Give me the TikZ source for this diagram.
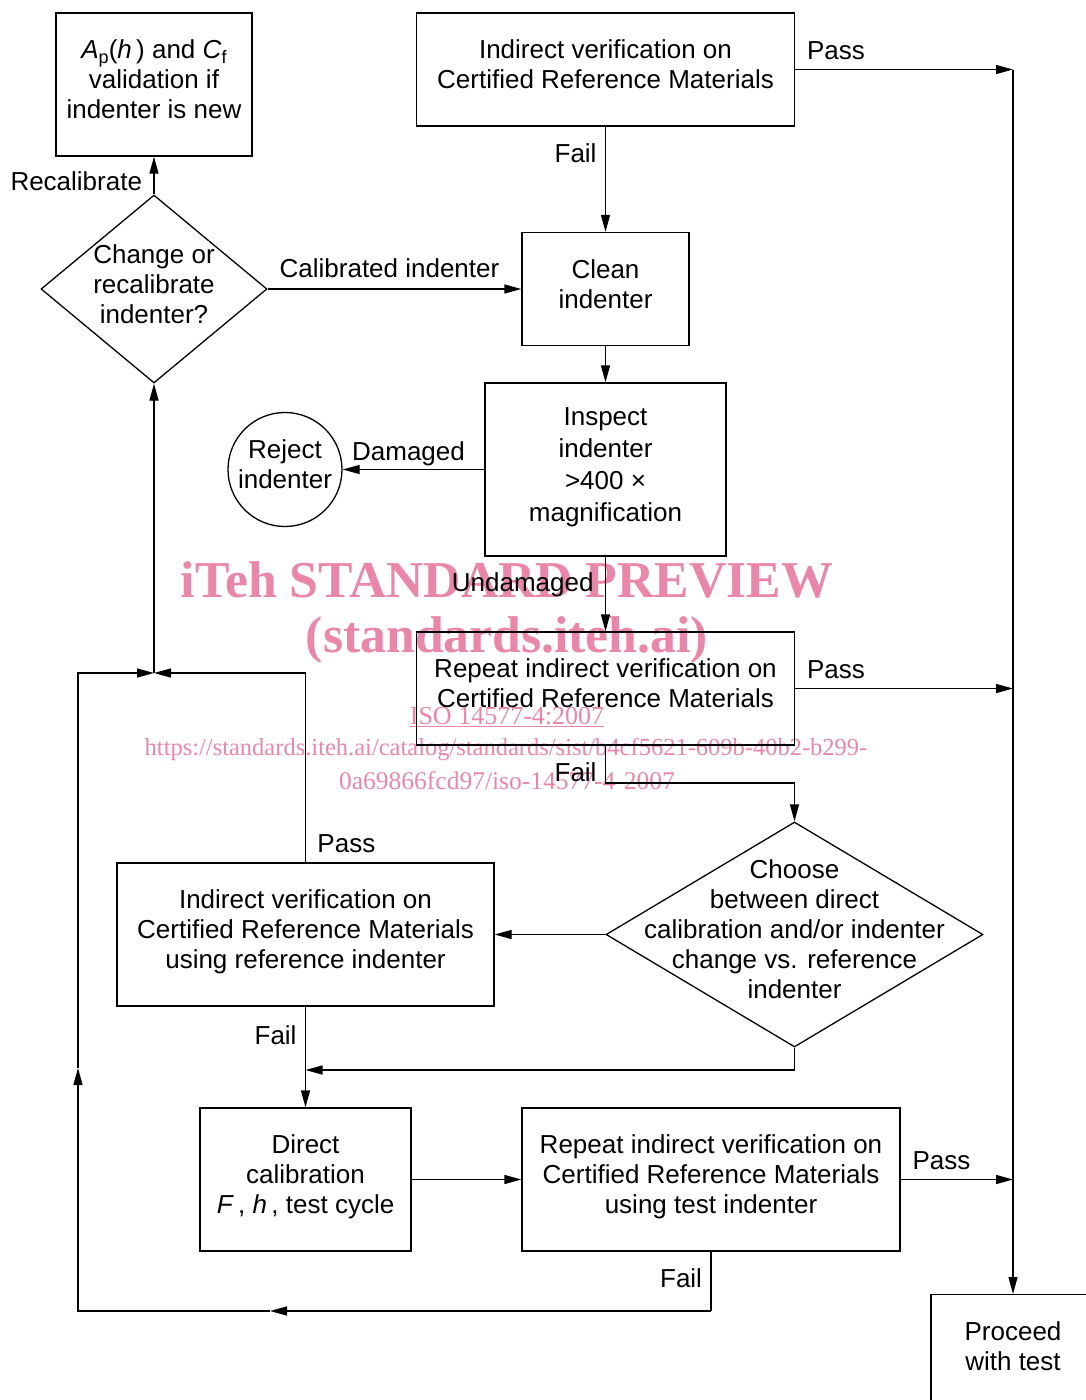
\documentclass[tikz,border=0pt]{standalone}
\usepackage{fontspec}
\setmainfont{Liberation Sans}
\newfontfamily\wmfont{Liberation Serif}
\usetikzlibrary{shapes.geometric,arrows.meta}
\definecolor{wmpink}{RGB}{236,134,168}

\begin{document}
\begin{tikzpicture}[x=1pt, y=-1pt, line width=1.3pt,
        font=\fontsize{26}{30}\selectfont,
        box/.style={draw, align=center, inner sep=0pt, text depth=10pt},
        dia/.style={draw, diamond, inner sep=0pt},
        diatext/.style={align=center, text depth=10pt},
        arr/.style={-{Triangle[length=17pt,width=9pt]}},
        pass/.style={above right, xshift=8pt, yshift=6pt},
        fail/.style={left, xshift=-5pt},
        wm/.style={text=wmpink, font=\wmfont\fontsize{26}{30}\selectfont}]
    \useasboundingbox (0,0) rectangle (1085,1400);

    % watermark (behind)
    \node[wm, font=\wmfont\bfseries\fontsize{51.7}{55}\selectfont] (wm1) at (507,580) {iTeh STANDARD PREVIEW};
    \node[wm, font=\wmfont\bfseries\fontsize{51.7}{55}\selectfont] (wm2) at (507,640) {(standards.iteh.ai)};
    \node[wm] (wm3) at (507,717) {\underline{ISO 14577-4:2007}};
    \node[wm, font=\wmfont\fontsize{24.5}{30}\selectfont] (wm4) at (506,750) {https://standards.iteh.ai/catalog/standards/sist/b4cf5621-609b-40b2-b299-};
    \node[wm, font=\wmfont\fontsize{25.5}{30}\selectfont] (wm5) at (507,781) {0a69866fcd97/iso-14577-4-2007};

    % boxes
    \node[box, minimum width=196pt, minimum height=143pt] (apval) at (154,84.5)
        {\textit{A}\raisebox{-5pt}{\fontsize{18}{18}\selectfont p}(\textit{h}\,) and \textit{C}\raisebox{-5pt}{\fontsize{18}{18}\selectfont f}\\validation if\\indenter is new};
    \node[box, minimum width=378pt, minimum height=113pt] (ivcrm) at (605.5,69.5)
        {Indirect verification on\\Certified Reference Materials};
    \node[box, minimum width=167pt, minimum height=113pt] (clean) at (605.5,289) {Clean\\indenter};
    \node[dia, minimum width=226pt, minimum height=188pt,
        label={[diatext]center:Change or\\recalibrate\\indenter?}] (change) at (154,289) {};
    \node[box, minimum width=241pt, minimum height=173pt] (inspect) at (605.5,469.5)
        {Inspect\\[1.7pt]indenter\\[1.7pt]>400 ×\\[1.7pt]magnification};
    \node[draw, circle, minimum size=114pt, inner sep=0pt, align=center, text depth=10pt] (reject) at (285,469.5) {Reject\\indenter};
    \node[box, minimum width=378pt, minimum height=113pt] (rep1) at (605.5,688.5)
        {Repeat indirect verification on\\Certified Reference Materials};
    \node[dia, minimum width=377pt, minimum height=225pt,
        label={[diatext]center:Choose\\between direct\\calibration and/or indenter\\change vs. reference\\indenter}] (choose) at (794.5,934.5) {};
    \node[box, minimum width=377pt, minimum height=143pt] (ivref) at (305.5,934.5)
        {Indirect verification on\\Certified Reference Materials\\using reference indenter};
    \node[box, minimum width=211pt, minimum height=143pt] (direct) at (305.5,1179.5)
        {Direct\\calibration\\\textit{F}\,, \textit{h}\,, test cycle};
    \node[box, minimum width=378pt, minimum height=143pt] (rep2) at (711,1179.5)
        {Repeat indirect verification on\\Certified Reference Materials\\using test indenter};
    \node[box, minimum width=164pt, minimum height=113pt, anchor=north] (proceed) at (1013,1294)
        {Proceed\\with test};

    % junctions
    \coordinate (p1) at (1013,69.5);
    \coordinate (p2) at (1013,688.5);
    \coordinate (p3) at (1013,1179.5);
    \coordinate (j1) at (154,673);
    \coordinate (j2) at (305.5,1070);
    \coordinate (k1) at (605.5,783);
    \coordinate (k2) at (711,1311);
    \coordinate (f1) at (270,1311);
    \coordinate (f2) at (78,1068);

    % connectors
    \draw[arr] (ivcrm.east) -- (p1) node[pos=0, pass] {Pass};
    \draw[arr] (p1) -- (proceed.north);
    \draw[arr] (ivcrm) -- node[pos=0.25, fail] {Fail} (clean);
    \draw[arr] (change) -- node[above, xshift=-5pt, yshift=7pt] {Calibrated indenter} (clean);
    \draw[arr] (change) -- node[pos=0.35, left, xshift=-8pt] {Recalibrate} (apval);
    \draw[arr] (clean) -- (inspect);
    \draw[arr] (inspect) -- node[above, xshift=-5pt] {Damaged} (reject);
    \draw[arr] (inspect) -- node[pos=0.38, left, xshift=-8pt] {Undamaged} (rep1);
    \draw[arr] (rep1.east) -- (p2) node[pos=0, pass] {Pass};
    \draw[arr] (rep1.south) -- node[pos=0.7, fail] {Fail} (k1) -| (choose.north);
    \draw[arr] (choose) -- (ivref);
    \draw[arr] (ivref.north) |- (j1) node[pos=0, pass] {Pass};
    \draw[arr] (j1) -- (change);
    \draw[arr] (ivref) -- node[pos=0.28, fail] {Fail} (direct);
    \draw[arr] (choose.south) |- (j2);
    \draw[arr] (direct) -- (rep2);
    \draw[arr] (rep2.east) -- (p3) node[pos=0, pass] {Pass};
    \draw (rep2.south) -- node[pos=0.45, fail] {Fail} (k2);
    \draw[arr] (k2) -- (f1);
    \draw[arr] (f1) -| (f2);
    \draw[arr] (f2) |- (j1);
\end{tikzpicture}
\end{document}
